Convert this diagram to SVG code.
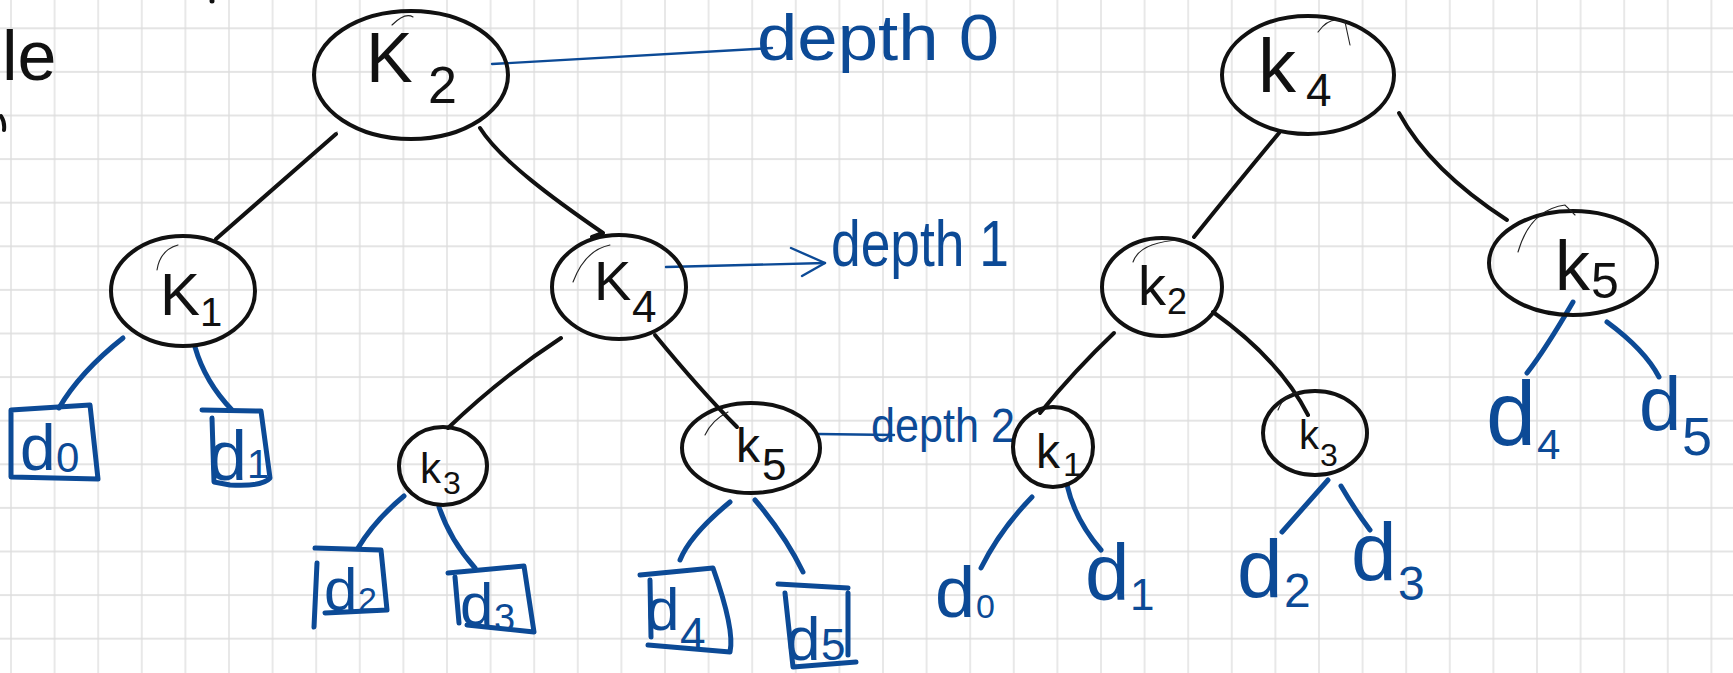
<svg xmlns="http://www.w3.org/2000/svg" width="1733" height="673" viewBox="0 0 1733 673">
  <defs>
    <!-- squared note paper, 43.6px cells -->
    <pattern id="paper" patternUnits="userSpaceOnUse" x="10" y="27.3" width="43.6" height="43.6">
      <path d="M1 0V43.6M0 1H43.6" stroke="#dcdcdc" stroke-width="1.3" fill="none"/>
    </pattern>
    <style>
      .ink{fill:none;stroke:#111;stroke-width:4;stroke-linecap:round;stroke-linejoin:round}
      .hair{fill:none;stroke:#222;stroke-width:1.1;stroke-linecap:round}
      .pen{fill:none;stroke:#0c4a96;stroke-width:5;stroke-linecap:round;stroke-linejoin:round}
      .pen-thin{fill:none;stroke:#0c4a96;stroke-width:2.4;stroke-linecap:round;stroke-linejoin:round}
      text{font-family:"Liberation Sans","DejaVu Sans",sans-serif}
      .k{fill:#111}
      .d{fill:#0c4a96}
    </style>
  </defs>

  <rect width="1733" height="673" fill="#fff"/>
  <rect width="1733" height="673" fill="url(#paper)"/>

  <!-- fragments of earlier writing at the page edge -->
  <g id="margin-notes">
    <text class="k" x="2" y="80" font-size="70">le</text>
    <path d="M1 116 Q5 122 4 130" class="ink" stroke-width="4"/>
    <circle cx="212" cy="1" r="2.5" fill="#111"/>
  </g>

  <!-- edges -->
  <g id="connectors">
    <!-- left tree, black -->
    <path class="ink" d="M336 134 L216 239"/>
    <path class="hair" d="M334 136 L337 132"/>
    <path class="ink" d="M480 128 C500 160 555 200 603 233 L592 237"/>
    <path class="ink" d="M561 338 Q500 378 448 428"/>
    <path class="ink" d="M655 335 Q700 390 737 427"/>
    <!-- right tree, black -->
    <path class="ink" d="M1279 133 Q1240 180 1194 237"/>
    <path class="ink" d="M1399 113 Q1430 170 1507 220"/>
    <path class="ink" d="M1114 333 Q1075 370 1040 413"/>
    <path class="ink" d="M1213 312 Q1280 360 1308 415"/>
    <!-- left tree, blue leaf links -->
    <path class="pen" d="M123 338 Q80 372 59 408"/>
    <path class="pen" d="M195 347 Q205 382 232 410"/>
    <path class="pen" d="M404 496 Q375 520 358 548"/>
    <path class="pen" d="M439 507 Q450 540 475 568"/>
    <path class="pen" d="M730 502 Q690 535 680 560"/>
    <path class="pen" d="M755 500 Q785 535 803 572"/>
    <!-- right tree, blue leaf links -->
    <path class="pen" d="M1032 497 Q1000 530 981 568"/>
    <path class="pen" d="M1067 485 Q1075 520 1101 550"/>
    <path class="pen" d="M1328 480 L1282 532"/>
    <path class="pen" d="M1341 486 Q1355 510 1370 530"/>
    <path class="pen" d="M1573 302 Q1545 350 1527 373"/>
    <path class="pen" d="M1607 322 Q1645 350 1659 377"/>
    <!-- depth markers -->
    <path class="pen-thin" d="M492 64 L772 48"/>
    <path class="pen-thin" d="M666 267 L825 263"/>
    <path class="pen-thin" d="M791 248 L825 263 L802 276"/>
    <path class="pen-thin" d="M818 434 L894 435"/>
  </g>

  <!-- depth labels -->
  <g id="depth-labels">
    <text class="d" x="757" y="60" font-size="64" textLength="242" lengthAdjust="spacingAndGlyphs">depth 0</text>
    <text class="d" x="831" y="266" font-size="64" textLength="178" lengthAdjust="spacingAndGlyphs">depth 1</text>
    <text class="d" x="871" y="442" font-size="48" textLength="144" lengthAdjust="spacingAndGlyphs">depth 2</text>
  </g>

  <!-- left tree: internal nodes -->
  <g id="L-K2">
    <ellipse class="ink" cx="411" cy="75" rx="97" ry="64"/>
    <path class="hair" d="M392 25 Q405 12 413 17"/>
    <text class="k" x="366" y="82" font-size="70">K<tspan x="428" y="103" font-size="52">2</tspan></text>
  </g>
  <g id="L-K1">
    <ellipse class="ink" cx="183" cy="291" rx="72" ry="55"/>
    <path class="hair" d="M157 270 Q160 250 178 245"/>
    <text class="k" x="160" y="315" font-size="60">K<tspan x="200" y="326" font-size="40">1</tspan></text>
  </g>
  <g id="L-K4">
    <ellipse class="ink" cx="619" cy="287" rx="67" ry="52"/>
    <path class="hair" d="M573 282 Q585 250 610 245"/>
    <text class="k" x="594" y="300" font-size="56">K<tspan x="632" y="322" font-size="44">4</tspan></text>
  </g>
  <g id="L-K3">
    <ellipse class="ink" cx="443" cy="466" rx="44" ry="39"/>
    <text class="k" x="420" y="483" font-size="42">k<tspan x="443" y="494" font-size="32">3</tspan></text>
  </g>
  <g id="L-K5">
    <ellipse class="ink" cx="751" cy="448" rx="69" ry="45"/>
    <path class="hair" d="M705 435 Q712 420 728 412"/>
    <text class="k" x="736" y="462" font-size="48">k<tspan x="762" y="480" font-size="44">5</tspan></text>
  </g>

  <!-- left tree: leaves in boxes -->
  <g id="L-d0">
    <path class="pen" d="M11 410 L90 405 L98 479 L11 477 Z"/>
    <text class="d" x="20" y="470" font-size="64">d<tspan x="56" y="472" font-size="42">0</tspan></text>
  </g>
  <g id="L-d1">
    <path class="pen" d="M202 410 L261 411 L270 478 Q262 487 230 485 L214 482 L212 418"/>
    <text class="d" x="208" y="480" font-size="70">d<tspan x="247" y="478" font-size="40">1</tspan></text>
  </g>
  <g id="L-d2">
    <path class="pen" d="M315 548 L381 550 L387 610 L325 613 M317 563 L314 627"/>
    <text class="d" x="324" y="610" font-size="60">d<tspan x="358" y="611" font-size="34">2</tspan></text>
  </g>
  <g id="L-d3">
    <path class="pen" d="M448 573 L524 566 L534 632 L467 625 M455 577 L459 623"/>
    <text class="d" x="460" y="625" font-size="60">d<tspan x="494" y="631" font-size="38">3</tspan></text>
  </g>
  <g id="L-d4">
    <path class="pen" d="M640 575 L713 568 Q735 630 730 652 L648 645 M650 580 L651 637"/>
    <text class="d" x="646" y="630" font-size="60">d<tspan x="680" y="650" font-size="46">4</tspan></text>
  </g>
  <g id="L-d5">
    <path class="pen" d="M778 584 L848 588 M785 593 L793 667 L856 662 M848 593 L848 655"/>
    <text class="d" x="786" y="660" font-size="62">d<tspan x="821" y="660" font-size="44">5</tspan></text>
  </g>

  <!-- right tree: internal nodes -->
  <g id="R-K4">
    <ellipse class="ink" cx="1308" cy="75" rx="86" ry="59"/>
    <path class="hair" d="M1318 32 Q1330 15 1345 22 L1350 45"/>
    <text class="k" x="1258" y="92" font-size="76">k<tspan x="1306" y="106" font-size="46">4</tspan></text>
  </g>
  <g id="R-K2">
    <ellipse class="ink" cx="1162" cy="287" rx="60" ry="49"/>
    <path class="hair" d="M1133 262 Q1140 242 1180 240"/>
    <text class="k" x="1138" y="305" font-size="56">k<tspan x="1167" y="314" font-size="36">2</tspan></text>
  </g>
  <g id="R-K5">
    <ellipse class="ink" cx="1573" cy="263" rx="84" ry="52"/>
    <path class="hair" d="M1518 252 Q1530 210 1565 205 L1575 215"/>
    <text class="k" x="1555" y="290" font-size="70">k<tspan x="1591" y="298" font-size="50">5</tspan></text>
  </g>
  <g id="R-K1">
    <ellipse class="ink" cx="1053" cy="447" rx="40" ry="40"/>
    <text class="k" x="1036" y="468" font-size="48">k<tspan x="1063" y="476" font-size="34">1</tspan></text>
  </g>
  <g id="R-K3">
    <ellipse class="ink" cx="1315" cy="433" rx="52" ry="42"/>
    <path class="hair" d="M1278 410 Q1285 392 1300 393"/>
    <text class="k" x="1299" y="449" font-size="40">k<tspan x="1320" y="466" font-size="32">3</tspan></text>
  </g>

  <!-- right tree: leaves -->
  <g id="R-d0">
    <text class="d" x="935" y="617" font-size="72">d<tspan x="976" y="618" font-size="34">0</tspan></text>
  </g>
  <g id="R-d1">
    <text class="d" x="1085" y="600" font-size="80">d<tspan x="1130" y="610" font-size="44">1</tspan></text>
  </g>
  <g id="R-d2">
    <text class="d" x="1237" y="597" font-size="82">d<tspan x="1284" y="607" font-size="48">2</tspan></text>
  </g>
  <g id="R-d3">
    <text class="d" x="1351" y="580" font-size="82">d<tspan x="1398" y="600" font-size="48">3</tspan></text>
  </g>
  <g id="R-d4">
    <text class="d" x="1486" y="445" font-size="90">d<tspan x="1537" y="459" font-size="42">4</tspan></text>
  </g>
  <g id="R-d5">
    <text class="d" x="1639" y="430" font-size="76">d<tspan x="1682" y="455" font-size="54">5</tspan></text>
  </g>
</svg>
